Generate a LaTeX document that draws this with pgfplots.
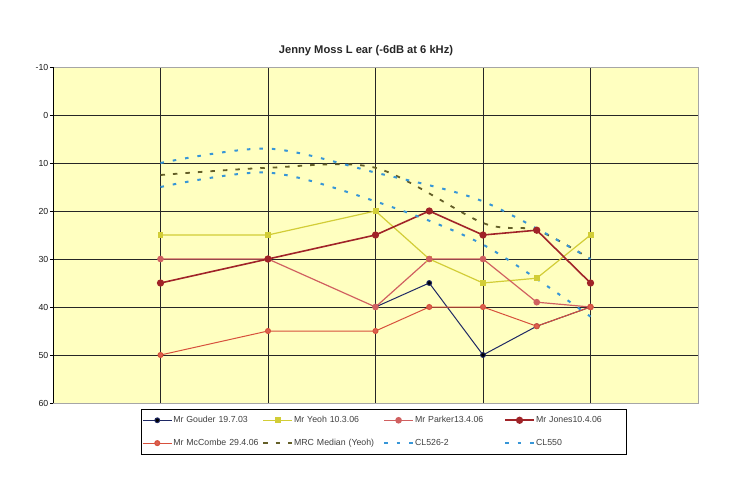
\documentclass[border=0pt]{standalone}
\usepackage{pgfplots}
\pgfplotsset{compat=1.18}
\usepackage{fontspec}
\setmainfont{Liberation Sans}
\definecolor{bgyel}{RGB}{255,255,192}
\definecolor{gouder}{RGB}{30,40,100}
\definecolor{yeoh}{RGB}{210,205,55}
\definecolor{parker}{RGB}{208,96,96}
\definecolor{jones}{RGB}{160,35,40}
\definecolor{mccombe}{RGB}{215,80,60}
\definecolor{mrc}{RGB}{100,95,40}
\definecolor{clblue}{RGB}{55,150,215}
\begin{document}
\begin{tikzpicture}
\useasboundingbox (0bp,0bp) rectangle (738bp,479bp);
\node[font=\bfseries\fontsize{11.2}{13}\selectfont, text=black!85] at (366bp,428bp) {Jenny Moss L ear (-6dB at 6 kHz)};
\begin{axis}[
  at={(53bp,76bp)}, anchor=south west,
  scale only axis, width=645bp, height=336bp,
  xmin=0, xmax=6, ymin=-10, ymax=60, y dir=reverse,
  xtick={1,2,3,4,5}, xticklabels={}, x tick style={draw=none},
  ytick={-10,0,10,20,30,40,50,60},
  tick align=outside, major tick length=3bp,
  y tick style={black, line width=0.6pt},
  ytick pos=left,
  grid=major, major grid style={black!85, line width=0.7pt},
  axis line style={draw=none},
  axis background/.style={fill=bgyel},
  /pgf/number format/assume math mode=true,
  yticklabel style={font=\fontsize{8.8}{9}\selectfont, inner sep=1.5bp, text=black!90},
  clip=false,
  legend columns=4,
  legend cell align=left,
  legend style={at={(0.1364,-0.018)}, anchor=north west, draw=black, line width=0.6pt, fill=white,
    font=\fontsize{8.8}{10}\selectfont, inner xsep=1bp, inner ysep=6bp,
    nodes={text width=88bp, inner xsep=1bp, inner ysep=1bp, text=black!75},
    row sep=13bp},
  legend image code/.code={\draw[mark repeat=2,mark phase=2] plot coordinates {(0bp,0bp) (14.5bp,0bp) (29bp,0bp)};},
]
\draw[gray!70, line width=0.6pt] (rel axis cs:0,0) rectangle (rel axis cs:1,1);
\draw[black, line width=0.8pt] (rel axis cs:0,0) -- (rel axis cs:0,1);
\addplot[gouder, line width=1pt, mark=*, mark size=2.4bp, mark options={fill=black}] coordinates {(3,40) (3.5,35) (4,50) (4.5,44) (5,40)};
\addlegendentry{Mr Gouder 19.7.03}
\addplot[yeoh, line width=1.2pt, mark=square*, mark size=2.4bp] coordinates {(1,25) (2,25) (3,20) (3.5,30) (4,35) (4.5,34) (5,25)};
\addlegendentry{Mr Yeoh 10.3.06}
\addplot[parker, line width=1.2pt, mark=*, mark size=2.7bp] coordinates {(1,30) (2,30) (3,40) (3.5,30) (4,30) (4.5,39) (5,40)};
\addlegendentry{Mr Parker13.4.06}
\addplot[jones, line width=1.6pt, mark=*, mark size=2.8bp] coordinates {(1,35) (2,30) (3,25) (3.5,20) (4,25) (4.5,24) (5,35)};
\addlegendentry{Mr Jones10.4.06}
\addplot[mccombe, line width=1pt, mark=*, mark size=2.5bp, mark options={fill=mccombe!90}] coordinates {(1,50) (2,45) (3,45) (3.5,40) (4,40) (4.5,44) (5,40)};
\addlegendentry{Mr McCombe 29.4.06}
\addplot[mrc, line width=1.8bp, dash pattern=on 4.5bp off 8bp, smooth, tension=0.5] coordinates {(1,12.5) (2,11) (3,11) (4,22.5) (4.5,24) (5,30)};
\addlegendentry{MRC Median (Yeoh)}
\addplot[clblue, line width=2bp, dash pattern=on 3.5bp off 9bp, smooth, tension=0.5] coordinates {(1,10) (2,7) (3,12) (4,18) (5,30)};
\addlegendentry{CL526-2}
\addplot[clblue, line width=2bp, dash pattern=on 3.5bp off 9bp, smooth, tension=0.5] coordinates {(1,15) (2,12) (3,18) (4,27) (5,42)};
\addlegendentry{CL550}
\end{axis}
\end{tikzpicture}
\end{document}
